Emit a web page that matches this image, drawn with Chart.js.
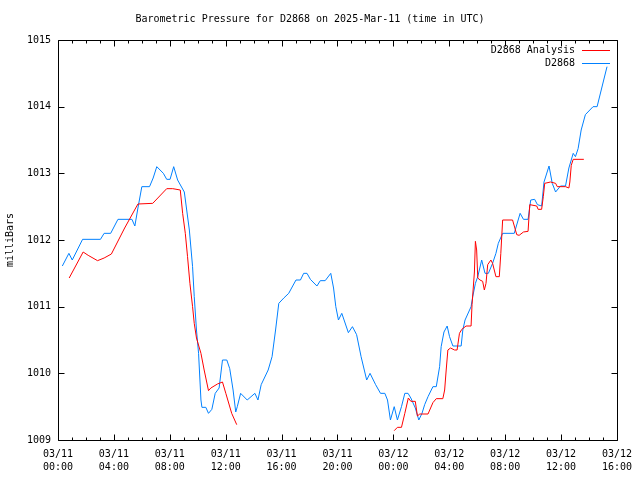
<!DOCTYPE html>
<html>
<head>
<meta charset="utf-8">
<script src="https://cdn.jsdelivr.net/npm/chart.js@4.4.1/dist/chart.umd.min.js"></script>
<style>
  html, body { margin: 0; padding: 0; background: #fff; }
  #wrap { width: 640px; height: 480px; }
</style>
</head>
<body>
<div id="wrap"><canvas id="chart" width="640" height="480"></canvas></div>
<script>
// hours since 03/11 00:00 UTC, pressure in mb
const stationHours = [
  0.31, 0.78, 1.02, 1.76, 3.04, 3.30, 3.77, 4.29, 5.29, 5.50, 5.72, 6.00, 6.55, 6.81, 7.07,
  7.54, 7.78, 8.02, 8.28, 8.56, 9.04, 9.40, 9.63, 9.75, 9.91, 10.06, 10.23, 10.30, 10.58,
  10.77, 11.01, 11.25, 11.53, 11.77, 12.08, 12.29, 12.53, 12.72, 12.83, 13.07, 13.54, 14.09,
  14.31, 14.54, 15.04, 15.32, 15.57, 15.80, 16.16, 16.51, 17.03, 17.35, 17.58, 17.82, 18.06,
  18.53, 18.77, 19.12, 19.52, 19.72, 19.88, 20.07, 20.31, 20.78, 21.07, 21.37, 21.69, 22.09,
  22.33, 22.73, 23.08, 23.39, 23.58, 23.79, 24.06, 24.29, 24.58, 24.82, 25.05, 25.25, 25.57,
  25.82, 26.05, 26.24, 26.48, 26.83, 27.07, 27.31, 27.42, 27.62, 27.85, 28.02, 28.26, 28.85,
  28.97, 29.13, 29.56, 29.68, 29.87, 30.04, 30.32, 30.56, 30.80, 31.10, 31.34, 31.51, 31.82,
  32.65, 33.07, 33.31, 33.64, 33.83, 34.11, 34.31, 34.61, 34.78, 35.14, 35.37, 35.61, 35.96,
  36.32, 36.56, 36.87, 37.03, 37.22, 37.44, 37.74, 38.29, 38.58, 39.29
];
const stationPressure = [
  1011.61, 1011.80, 1011.70, 1012.01, 1012.01, 1012.10, 1012.10, 1012.31, 1012.31, 1012.21,
  1012.48, 1012.80, 1012.80, 1012.93, 1013.10, 1013.00, 1012.91, 1012.91, 1013.10, 1012.90,
  1012.72, 1012.15, 1011.60, 1011.15, 1010.65, 1010.30, 1009.60, 1009.49, 1009.49, 1009.40,
  1009.46, 1009.70, 1009.78, 1010.20, 1010.20, 1010.07, 1009.75, 1009.42, 1009.50, 1009.70,
  1009.60, 1009.70, 1009.60, 1009.83, 1010.05, 1010.25, 1010.65, 1011.05, 1011.13, 1011.20,
  1011.40, 1011.40, 1011.50, 1011.50, 1011.41, 1011.31, 1011.39, 1011.39, 1011.50, 1011.28,
  1011.00, 1010.80, 1010.90, 1010.61, 1010.70, 1010.58, 1010.25, 1009.90, 1010.00, 1009.83,
  1009.70, 1009.70, 1009.60, 1009.30, 1009.50, 1009.30, 1009.50, 1009.70, 1009.70, 1009.63,
  1009.48, 1009.30, 1009.40, 1009.53, 1009.65, 1009.80, 1009.80, 1010.10, 1010.40, 1010.62,
  1010.71, 1010.55, 1010.41, 1010.41, 1010.65, 1010.80, 1011.00, 1011.15, 1011.35, 1011.45,
  1011.70, 1011.50, 1011.50, 1011.65, 1011.80, 1011.95, 1012.10, 1012.10, 1012.40, 1012.31,
  1012.31, 1012.60, 1012.61, 1012.53, 1012.51, 1012.87, 1013.11, 1012.85, 1012.72, 1012.81,
  1012.81, 1013.08, 1013.30, 1013.25, 1013.37, 1013.65, 1013.88, 1014.00, 1014.00, 1014.60
];

// analysis series has a gap (null) between the two runs
const analysisHours = [
  0.80, 1.80, 2.16, 2.83, 3.30, 3.82, 4.77, 5.72, 6.78, 7.78, 8.21, 8.75, 8.92, 9.11, 9.27,
  9.44, 9.63, 9.75, 9.91, 10.23, 10.46, 10.77, 10.94, 11.41, 11.77, 12.01, 12.43, 12.79,
  18.00,
  24.06, 24.29, 24.58, 24.82, 25.07, 25.25, 25.57, 25.72, 25.89, 26.48, 26.83, 27.07, 27.54,
  27.67, 27.78, 27.90, 28.09, 28.38, 28.56, 28.73, 28.90, 29.20, 29.56, 29.63, 29.80, 29.87,
  29.96, 30.04, 30.20, 30.39, 30.51, 30.63, 30.75, 30.98, 31.10, 31.34, 31.58, 31.69, 31.82,
  32.53, 32.83, 33.00, 33.31, 33.64, 33.76, 34.26, 34.36, 34.61, 34.73, 34.83, 35.25, 35.61,
  35.73, 36.32, 36.56, 36.63, 36.73, 36.87, 37.63
];
const analysisPressure = [
  1011.43, 1011.82, 1011.77, 1011.69, 1011.73, 1011.79, 1012.18, 1012.54, 1012.55, 1012.77,
  1012.77, 1012.75, 1012.40, 1012.10, 1011.75, 1011.35, 1011.00, 1010.75, 1010.53, 1010.30,
  1010.05, 1009.74, 1009.78, 1009.84, 1009.87, 1009.70, 1009.40, 1009.23,
  null,
  1009.14, 1009.19, 1009.19, 1009.40, 1009.63, 1009.58, 1009.58, 1009.36, 1009.39, 1009.39,
  1009.56, 1009.62, 1009.62, 1009.75, 1010.05, 1010.35, 1010.38, 1010.35, 1010.35, 1010.60,
  1010.66, 1010.71, 1010.71, 1011.03, 1011.52, 1011.98, 1011.85, 1011.43, 1011.40, 1011.38,
  1011.25, 1011.35, 1011.63, 1011.70, 1011.65, 1011.45, 1011.45, 1011.80, 1012.30, 1012.30,
  1012.08, 1012.07, 1012.12, 1012.13, 1012.53, 1012.51, 1012.46, 1012.46, 1012.65, 1012.85,
  1012.87, 1012.85, 1012.80, 1012.80, 1012.78, 1012.87, 1013.12, 1013.21, 1013.21
];

const tickDays = ['03/11', '03/11', '03/11', '03/11', '03/11', '03/11', '03/12', '03/12', '03/12', '03/12', '03/12'];
const tickTimes = ['00:00', '04:00', '08:00', '12:00', '16:00', '20:00', '00:00', '04:00', '08:00', '12:00', '16:00'];

const MONO = "'DejaVu Sans Mono', 'Liberation Mono', monospace";

function toPoints(xs, ys) {
  return xs.map((x, i) => ({ x, y: ys[i] }));
}

// frame, inward ticks (mirrored) and the top-right key, gnuplot style
const framePlugin = {
  id: 'frame',
  afterDraw(chart) {
    const { ctx, chartArea: a } = chart;
    const xs = chart.scales.x, ys = chart.scales.y;
    const L = Math.round(a.left) + 0.5, R = Math.round(a.right) + 0.5;
    const T = Math.round(a.top) + 0.5, B = Math.round(a.bottom) + 0.5;
    ctx.save();
    ctx.strokeStyle = '#000';
    ctx.lineWidth = 1;
    ctx.beginPath();
    ctx.rect(L, T, R - L, B - T);
    // x ticks: major every 4h, minor every hour
    for (let h = 0; h <= 40; h++) {
      const px = Math.round(xs.getPixelForValue(h)) + 0.5;
      const len = h % 4 === 0 ? 6 : 3;
      ctx.moveTo(px, B); ctx.lineTo(px, B - len);
      ctx.moveTo(px, T); ctx.lineTo(px, T + len);
    }
    for (let v = 1009; v <= 1015; v++) {
      const py = Math.round(ys.getPixelForValue(v)) + 0.5;
      ctx.moveTo(L, py); ctx.lineTo(L + 6, py);
      ctx.moveTo(R, py); ctx.lineTo(R - 6, py);
    }
    ctx.stroke();

    // key
    ctx.font = '10px ' + MONO;
    ctx.textAlign = 'right';
    ctx.textBaseline = 'middle';
    chart.data.datasets.forEach((ds, i) => {
      const y = 50 + i * 13;
      ctx.fillStyle = '#000';
      ctx.fillText(ds.label, 575, y);
      ctx.strokeStyle = ds.borderColor;
      ctx.beginPath();
      ctx.moveTo(582, y + 0.5);
      ctx.lineTo(610, y + 0.5);
      ctx.stroke();
    });
    ctx.restore();
  }
};

new Chart(document.getElementById('chart'), {
  type: 'line',
  data: {
    datasets: [
      {
        label: 'D2868 Analysis',
        data: toPoints(analysisHours, analysisPressure),
        borderColor: '#ff0000',
        borderWidth: 1,
        pointRadius: 0,
        tension: 0,
        spanGaps: false,
      },
      {
        label: 'D2868',
        data: toPoints(stationHours, stationPressure),
        borderColor: '#0080ff',
        borderWidth: 1,
        pointRadius: 0,
        tension: 0,
      },
    ],
  },
  options: {
    responsive: false,
    animation: false,
    devicePixelRatio: 1,
    layout: { padding: { left: 0, right: 20, top: 0, bottom: 0 } },
    plugins: {
      legend: { display: false },
      tooltip: { enabled: false },
      title: {
        display: true,
        text: 'Barometric Pressure for D2868 on 2025-Mar-11 (time in UTC)',
        color: '#000',
        font: { family: MONO, size: 10, weight: 'normal', lineHeight: 1.2 },
        padding: { top: 13, bottom: 15 },
      },
    },
    scales: {
      x: {
        type: 'linear',
        min: 0,
        max: 40,
        grid: { display: false, drawTicks: false },
        border: { display: false },
        ticks: {
          stepSize: 4,
          autoSkip: false,
          maxRotation: 0,
          padding: 8,
          color: '#000',
          font: { family: MONO, size: 10, lineHeight: 1.3 },
          callback: (v) => {
            const i = Math.round(v / 4);
            return [tickDays[i], tickTimes[i]];
          },
        },
        afterFit: (s) => { s.height = 40; },
      },
      y: {
        min: 1009,
        max: 1015,
        grid: { display: false, drawTicks: false },
        border: { display: false },
        ticks: {
          stepSize: 1,
          padding: 7,
          color: '#000',
          font: { family: MONO, size: 10 },
          callback: (v) => String(v),
        },
        title: {
          display: true,
          text: 'milliBars',
          color: '#000',
          font: { family: MONO, size: 10, lineHeight: 1.2 },
          padding: { top: 4, bottom: 4 },
        },
        afterFit: (s) => { s.width = 58; },
      },
    },
  },
  plugins: [framePlugin],
});
</script>
</body>
</html>
